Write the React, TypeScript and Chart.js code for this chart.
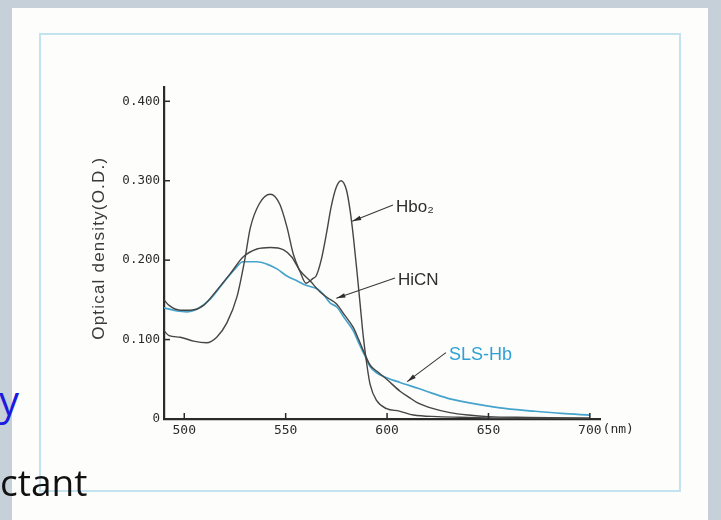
import React, { useEffect, useRef } from 'react';
import { Chart, registerables } from 'chart.js';

Chart.register(...registerables);

// ---- data (wavelength in nm, optical density) ----
const hbo2Nm = [490, 492.5, 498, 504.6, 511, 516, 521, 526, 530, 532.5, 537, 542.4, 547, 550.7, 553.7, 557, 560, 563.5, 565, 567.5, 570, 572.5, 575, 577.3, 580, 581.8, 583.4, 585.1, 586.7, 588.3, 590, 591.6, 594.9, 599.8, 606, 613, 625, 640, 660, 700];
const hbo2Od = [0.111, 0.105, 0.103, 0.098, 0.096, 0.103, 0.121, 0.154, 0.203, 0.240, 0.271, 0.283, 0.271, 0.241, 0.208, 0.186, 0.171, 0.177, 0.180, 0.200, 0.232, 0.268, 0.292, 0.300, 0.288, 0.262, 0.229, 0.187, 0.145, 0.103, 0.069, 0.044, 0.023, 0.013, 0.010, 0.005, 0.003, 0.002, 0.001, 0.001];

const hicnNm = [490, 492.5, 498, 503, 509.5, 516, 522.7, 529, 535.8, 542.4, 549, 553, 557, 562, 567, 571, 575, 579, 583.4, 586, 589, 591.6, 595, 599.8, 606.4, 611, 614.6, 622.8, 631, 640, 650, 670, 700];
const hicnOd = [0.150, 0.143, 0.137, 0.137, 0.143, 0.162, 0.183, 0.204, 0.214, 0.216, 0.213, 0.204, 0.187, 0.174, 0.160, 0.152, 0.145, 0.131, 0.115, 0.100, 0.082, 0.068, 0.060, 0.050, 0.035, 0.027, 0.021, 0.013, 0.008, 0.005, 0.003, 0.002, 0.001];

const slsNm = [490, 496.4, 501.3, 506, 512.8, 519.4, 525, 529, 535.8, 540.7, 545.7, 550.6, 555.5, 560.4, 565.4, 568.6, 572, 575.2, 579, 583.4, 586, 589, 591.6, 595, 599.8, 606.4, 616, 622.8, 630, 639.3, 655.7, 672, 686, 700];
const slsOd = [0.140, 0.136, 0.135, 0.138, 0.151, 0.172, 0.189, 0.198, 0.198, 0.195, 0.189, 0.180, 0.174, 0.168, 0.164, 0.157, 0.146, 0.141, 0.127, 0.111, 0.096, 0.080, 0.066, 0.058, 0.052, 0.046, 0.038, 0.032, 0.026, 0.021, 0.014, 0.010, 0.007, 0.005];

const seriesNames = ['Hbo₂', 'HiCN', 'SLS-Hb'];

const xTickValues = [500, 550, 600, 650, 700];
const xTickLabels = ['500', '550', '600', '650', '700'];
const xUnitLabel = '(nm)';
const yTickValues = [0, 0.1, 0.2, 0.3, 0.4];
const yTickLabels = ['0', '0.100', '0.200', '0.300', '0.400'];
const yTitle = 'Optical density(O.D.)';

// annotation anchors (data coordinates)
const annoTextNm = [604.4, 605.4, 630.5];
const annoTextOd = [0.267, 0.175, 0.081];
const annoTipNm = [582.8, 575.0, 609.9];
const annoTipOd = [0.249, 0.152, 0.047];

const DARK = '#454545';
const BLUE = '#45a3cc';
const LABEL_BLUE = '#2ea0d6';
const AXIS = '#2a2a2a';
const TICK_COLOR = '#2c2c2c';
const TICK_FONT = '"DejaVu Sans Mono", monospace';

const decor = {
  id: 'decor',
  afterDraw(chart: any) {
    const { ctx, chartArea } = chart;
    const x = chart.scales.x;
    const y = chart.scales.y;
    ctx.save();
    // inward tick marks
    ctx.strokeStyle = AXIS;
    ctx.lineWidth = 1.5;
    xTickValues.forEach((v) => {
      const px = x.getPixelForValue(v);
      ctx.beginPath();
      ctx.moveTo(px, chartArea.bottom);
      ctx.lineTo(px, chartArea.bottom - 6);
      ctx.stroke();
    });
    yTickValues.forEach((v) => {
      if (v === 0) return;
      const py = y.getPixelForValue(v);
      ctx.beginPath();
      ctx.moveTo(chartArea.left, py);
      ctx.lineTo(chartArea.left + 6, py);
      ctx.stroke();
    });
    // unit after last x label
    ctx.font = `13px ${TICK_FONT}`;
    ctx.fillStyle = TICK_COLOR;
    ctx.textAlign = 'left';
    ctx.textBaseline = 'top';
    const lastV = xTickValues[xTickValues.length - 1];
    const p = x.getPixelForValue(lastV);
    const w = ctx.measureText(xTickLabels[xTickLabels.length - 1]).width;
    ctx.fillText(xUnitLabel, p + w / 2 + 1, x.top + 4);

    // y title
    ctx.save();
    ctx.translate(59, y.getPixelForValue(0.215));
    ctx.rotate(-Math.PI / 2);
    ctx.font = '17px "Liberation Sans", Arial, sans-serif';
    try { (ctx as any).letterSpacing = '1.2px'; } catch (e) {}
    ctx.fillStyle = '#3a3a3a';
    ctx.textAlign = 'center';
    ctx.textBaseline = 'middle';
    ctx.fillText(yTitle, 0, 0);
    ctx.restore();

    // annotations
    seriesNames.forEach((name, i) => {
      const tx = x.getPixelForValue(annoTextNm[i]);
      const ty = y.getPixelForValue(annoTextOd[i]);
      const ax = x.getPixelForValue(annoTipNm[i]);
      const ay = y.getPixelForValue(annoTipOd[i]);
      ctx.font = `${i === 2 ? 18 : 17}px "Liberation Sans", Arial, sans-serif`;
      ctx.fillStyle = i === 2 ? LABEL_BLUE : '#2e2e2e';
      ctx.textAlign = 'left';
      ctx.textBaseline = 'middle';
      ctx.fillText(name, tx, ty);
      const sx = tx - 3;
      const sy = ty - 2;
      ctx.strokeStyle = '#3a3a3a';
      ctx.lineWidth = 1.1;
      ctx.beginPath();
      ctx.moveTo(sx, sy);
      ctx.lineTo(ax, ay);
      ctx.stroke();
      const ang = Math.atan2(ay - sy, ax - sx);
      const len = 9;
      const hw = 2.3;
      ctx.fillStyle = '#2e2e2e';
      ctx.beginPath();
      ctx.moveTo(ax, ay);
      ctx.lineTo(ax - len * Math.cos(ang) + hw * Math.sin(ang), ay - len * Math.sin(ang) - hw * Math.cos(ang));
      ctx.lineTo(ax - len * Math.cos(ang) - hw * Math.sin(ang), ay - len * Math.sin(ang) + hw * Math.cos(ang));
      ctx.closePath();
      ctx.fill();
    });
    ctx.restore();
  },
};

function toPoints(xs: number[], ys: number[]) {
  return xs.map((v, i) => ({ x: v, y: ys[i] }));
}

export default function App() {
  const ref = useRef<HTMLCanvasElement | null>(null);

  useEffect(() => {
    if (!ref.current) return;
    const chart = new Chart(ref.current, {
      type: 'line',
      data: {
        datasets: [
          { label: seriesNames[0], data: toPoints(hbo2Nm, hbo2Od), borderColor: DARK, borderWidth: 1.4, pointRadius: 0, cubicInterpolationMode: 'monotone', fill: false },
          { label: seriesNames[1], data: toPoints(hicnNm, hicnOd), borderColor: DARK, borderWidth: 1.4, pointRadius: 0, cubicInterpolationMode: 'monotone', fill: false },
          { label: seriesNames[2], data: toPoints(slsNm, slsOd), borderColor: BLUE, borderWidth: 1.7, pointRadius: 0, cubicInterpolationMode: 'monotone', fill: false },
        ],
      },
      options: {
        animation: false,
        responsive: false,
        maintainAspectRatio: false,
        devicePixelRatio: 1,
        layout: { padding: { top: 53, right: 80, left: 0, bottom: 0 } },
        plugins: { legend: { display: false }, tooltip: { enabled: false } },
        scales: {
          x: {
            type: 'linear',
            min: 490,
            max: 705,
            grid: { display: false, drawTicks: false },
            border: { display: true, color: AXIS, width: 2.2 },
            afterBuildTicks: (s: any) => { s.ticks = xTickValues.map((v) => ({ value: v })); },
            afterFit: (s: any) => { s.height = 72; },
            ticks: {
              autoSkip: false,
              maxRotation: 0,
              padding: 4,
              color: TICK_COLOR,
              font: { family: TICK_FONT, size: 13 },
              callback: (v: any) => { const i = xTickValues.indexOf(Number(v)); return i >= 0 ? xTickLabels[i] : ''; },
            },
          },
          y: {
            type: 'linear',
            min: 0,
            max: 0.418,
            grid: { display: false, drawTicks: false },
            border: { display: true, color: AXIS, width: 2.2 },
            afterBuildTicks: (s: any) => { s.ticks = yTickValues.map((v) => ({ value: v })); },
            afterFit: (s: any) => { s.width = 124; },
            ticks: {
              autoSkip: false,
              padding: 4,
              color: TICK_COLOR,
              font: { family: TICK_FONT, size: 12.5 },
              callback: (v: any) => { const i = yTickValues.findIndex((t) => Math.abs(t - Number(v)) < 1e-6); return i >= 0 ? yTickLabels[i] : ''; },
            },
          },
        },
      } as any,
      plugins: [decor],
    });
    return () => chart.destroy();
  }, []);

  return (
    <div style={{ position: 'fixed', left: 0, top: 0, width: 721, height: 520, background: '#c5d0d8', overflow: 'hidden' }}>
      <div style={{ position: 'absolute', left: 12, top: 8, width: 696, height: 520, background: '#fdfdfb' }} />
      <div style={{ position: 'absolute', left: 39, top: 33, width: 642, height: 459, border: '2px solid #c2e3ef', boxSizing: 'border-box' }} />
      <canvas ref={ref} width={640} height={457} style={{ position: 'absolute', left: 40, top: 34, width: 640, height: 457 }} />
      <div style={{ position: 'absolute', left: -1, top: 380, fontFamily: '"Open Sans", sans-serif', fontSize: 40, lineHeight: '40px', color: '#1a1ae0', whiteSpace: 'nowrap' }}>y</div>
      <div style={{ position: 'absolute', left: 0, top: 463, fontFamily: '"Open Sans", sans-serif', fontSize: 37, lineHeight: '37px', color: '#111', whiteSpace: 'nowrap' }}>ctant</div>
    </div>
  );
}
